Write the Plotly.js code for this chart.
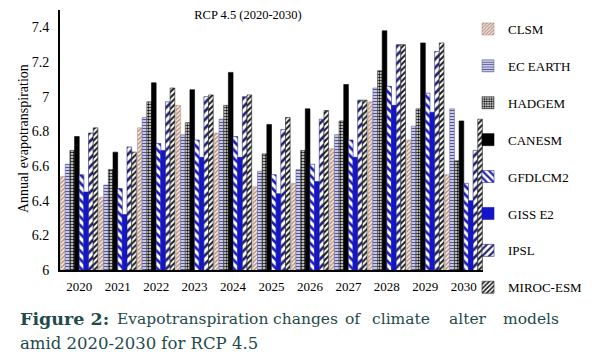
<!DOCTYPE html>
<html>
<head>
<meta charset="utf-8">
<script src="https://cdn.plot.ly/plotly-3.0.1.min.js"></script>
<style>
  html, body { margin: 0; padding: 0; background: #ffffff; }
  #chart { width: 597px; height: 364px; }
</style>
</head>
<body>
<div id="chart"></div>
<script>
// ---- Data ----
const years = ['2020','2021','2022','2023','2024','2025','2026','2027','2028','2029','2030'];
const modelNames = ['CLSM','EC EARTH','HADGEM','CANESM','GFDLCM2','GISS E2','IPSL','MIROC-ESM'];
const clsm     = [6.54, 6.42, 6.82, 6.95, 6.79, 6.48, 6.50, 6.70, 6.97, 6.75, 6.55];
const ecEarth  = [6.61, 6.49, 6.88, 6.78, 6.87, 6.57, 6.58, 6.78, 7.05, 6.83, 6.93];
const hadgem   = [6.69, 6.58, 6.97, 6.85, 6.95, 6.67, 6.69, 6.86, 7.15, 6.93, 6.63];
const canesm   = [6.77, 6.68, 7.08, 7.04, 7.14, 6.84, 6.93, 7.07, 7.38, 7.31, 6.86];
const gfdlcm2  = [6.55, 6.47, 6.73, 6.75, 6.77, 6.55, 6.61, 6.75, 7.06, 7.02, 6.50];
const gissE2   = [6.45, 6.32, 6.69, 6.65, 6.65, 6.44, 6.51, 6.65, 6.95, 6.91, 6.40];
const ipsl     = [6.79, 6.71, 6.97, 7.00, 7.00, 6.81, 6.87, 6.98, 7.30, 7.26, 6.69];
const mirocEsm = [6.82, 6.68, 7.05, 7.01, 7.01, 6.88, 6.92, 6.98, 7.30, 7.31, 6.87];
const seriesValues = [clsm, ecEarth, hadgem, canesm, gfdlcm2, gissE2, ipsl, mirocEsm];

// ---- Styles ----
const serif = 'Liberation Serif';
const styles = [
  {color:'#f6eee8', line:'#b89484', pattern:{shape:'/',  fgcolor:'#b48c7a', bgcolor:'#f6eee8', size:3, solidity:0.45}},
  {color:'#dcdcee', line:'#6a6aa6', pattern:{shape:'-',  fgcolor:'#54549a', bgcolor:'#e2e2f2', size:3, solidity:0.45}},
  {color:'#ffffff', line:'#333333', pattern:{shape:'.',  fgcolor:'#111111', bgcolor:'#ffffff', size:3, solidity:0.55}},
  {color:'#000000', line:'#000000', pattern:{shape:''}},
  {color:'#ffffff', line:'#2a2aa8', pattern:{shape:'\\', fgcolor:'#1e1ea6', bgcolor:'#ffffff', size:6, solidity:0.45}},
  {color:'#1414c8', line:'#1414c8', pattern:{shape:''}},
  {color:'#ffffff', line:'#22226e', pattern:{shape:'/',  fgcolor:'#20206c', bgcolor:'#ffffff', size:6, solidity:0.45}},
  {color:'#ffffff', line:'#222222', pattern:{shape:'/',  fgcolor:'#1a1a1a', bgcolor:'#ffffff', size:4, solidity:0.5}}
];

const traces = modelNames.map((name, i) => ({
  type: 'bar',
  name: name,
  x: years,
  y: seriesValues[i],
  legendgroup: 'g' + i,
  marker: {
    color: styles[i].color,
    line: {color: styles[i].line, width: 0.6},
    pattern: styles[i].pattern
  },
  hoverinfo: 'x+y+name'
}));

// ---- Layout geometry ----
const W = 597, H = 364;
const M = {l: 60, r: 113, t: 10, b: 94};
const PW = W - M.l - M.r, PH = H - M.t - M.b;
const px2x = px => (px - M.l) / PW;
const py2y = py => (H - M.b - py) / PH;

const captionColor = '#1f4b4b';
const captionFont = 'DejaVu Serif';
const line1 = [
  {t:'<b>Figure 2:</b>', x:18, s:17.5},
  {t:'Evapotranspiration', x:115, s:15.5},
  {t:'changes', x:271, s:15.5},
  {t:'of', x:344, s:15.5},
  {t:'climate', x:371, s:15.5},
  {t:'alter', x:448, s:15.5},
  {t:'models', x:502, s:15.5}
];
const annotations = line1.map(w => ({
  text: w.t, xref:'paper', yref:'paper', x: px2x(w.x), y: py2y(319),
  xanchor:'left', yanchor:'middle', showarrow:false,
  font:{family: captionFont, size:w.s, color: captionColor}
}));
annotations.push({
  text:'amid 2020-2030 for RCP 4.5', xref:'paper', yref:'paper',
  x: px2x(18), y: py2y(343), xanchor:'left', yanchor:'middle', showarrow:false,
  font:{family: captionFont, size:16.5, color: captionColor}
});
// y-axis title placed as a rotated annotation for exact position
annotations.push({
  text:'Annual evapotranspiration', xref:'paper', yref:'paper',
  x: px2x(23), y: py2y(139), xanchor:'center', yanchor:'middle', textangle:-90,
  showarrow:false, font:{family: serif, size:14, color:'#000'}
});

const layout = {
  width: W, height: H,
  margin: M,
  font:{family: serif, color:'#000'},
  paper_bgcolor:'#ffffff', plot_bgcolor:'#ffffff',
  barmode:'group', bargap:0.03, bargroupgap:0,
  showlegend:true,
  title:{text:'RCP 4.5 (2020-2030)', font:{family:serif, size:12.5, color:'#000'},
         xref:'container', yref:'container', x:248/W, xanchor:'center', y:1-15/H, yanchor:'middle'},
  xaxis:{type:'category', showline:true, linecolor:'#000', linewidth:1.5, ticks:'',
         tickfont:{family:serif, size:13, color:'#000'}, ticklabelstandoff:4, showgrid:false},
  yaxis:{range:[6,7.5], tick0:6, dtick:0.2, showline:true, linecolor:'#000', linewidth:2,
         ticks:'', showgrid:false, zeroline:false,
         tickfont:{family:serif, size:14, color:'#000'}, ticklabelstandoff:6},
  legend:{x: px2x(468), y: py2y(14), xanchor:'left', yanchor:'top', xref:'paper', yref:'paper',
          bgcolor:'rgba(0,0,0,0)', borderwidth:0, tracegroupgap:17, maxheight:340,
          font:{family:serif, size:13, color:'#000'}},
  annotations: annotations
};

Plotly.newPlot('chart', traces, layout, {displayModeBar:false, staticPlot:true});
</script>
</body>
</html>
